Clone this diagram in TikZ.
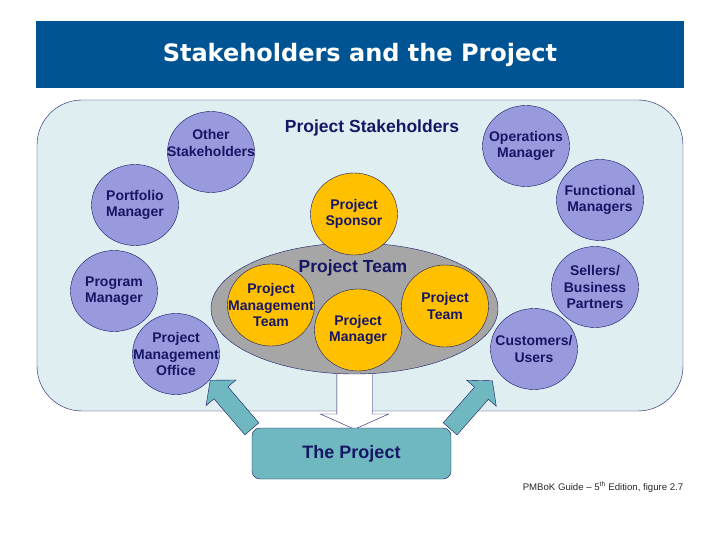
\documentclass[tikz,border=0pt]{standalone}
\usepackage{fontspec}
\setmainfont{Liberation Sans}
\newfontfamily\titlefont{DejaVu Sans}
\usetikzlibrary{positioning, shapes, shapes.arrows}

\definecolor{navy}{RGB}{22,22,100}
\definecolor{bannerblue}{RGB}{0,84,147}
\definecolor{lavender}{RGB}{153,153,221}
\definecolor{gold}{RGB}{255,192,0}
\definecolor{pale}{RGB}{222,238,241}
\definecolor{tealbox}{RGB}{112,184,192}
\definecolor{greyteam}{RGB}{166,166,166}

\begin{document}
\begin{tikzpicture}[x=1bp, y=-1bp,
      stk/.style={ellipse, draw=navy, fill=lavender, minimum width=87bp, minimum height=81bp, inner sep=0pt},
      core/.style={ellipse, draw=navy, fill=gold, minimum width=87bp, minimum height=82bp, inner sep=0pt},
      txt/.style={font=\bfseries\fontsize{14bp}{16.5bp}\selectfont, text=navy, align=center, inner sep=0pt},
      hdr/.style={font=\bfseries\fontsize{17.5bp}{20bp}\selectfont, text=navy, inner sep=0pt},
      push/.style={single arrow, draw=navy, fill=tealbox, inner xsep=0pt, inner ysep=9bp, minimum height=64bp,
        single arrow head extend=10.5bp, single arrow tip angle=100, anchor=tail}]
      \useasboundingbox (0,0) rectangle (720,540);
      \node[fill=bannerblue, minimum width=648bp, minimum height=67bp, text=white,
        font=\titlefont\bfseries\fontsize{24bp}{27bp}\selectfont] (banner) at (360,54.5) {Stakeholders and the Project};
      \node[draw=navy, fill=pale, rounded corners=45bp, minimum width=646bp, minimum height=311bp] (area) at (360,255.5) {};
      \node[hdr, anchor=base] (stakes) at (372,133) {Project Stakeholders};

      % stakeholders around the team
      \node[stk, label={[txt, yshift=9bp]center:{Other\\Stakeholders}}] (other) at (211,152) {};
      \node[stk, label={[txt]center:{Portfolio\\Manager}}] (portfolio) at (135,205) {};
      \node[stk, label={[txt]center:{Program\\Manager}}] (program) at (114,291) {};
      \node[stk, label={[txt]center:{Project\\Management\\Office}}] (pmo) at (176,354) {};
      \node[stk, label={[txt]center:{Operations\\Manager}}] (ops) at (526,146) {};
      \node[stk, label={[txt]center:{Functional\\Managers}}] (functional) at (600,200) {};
      \node[stk, label={[txt]center:{Sellers/\\Business\\Partners}}] (sellers) at (595,287) {};
      \node[stk, label={[txt]center:{Customers/\\Users}}] (customers) at (534,349) {};

      % the project team
      \node[single arrow, draw=navy, fill=white, inner xsep=0pt, inner ysep=17.5bp, minimum height=64bp,
        single arrow head extend=16.5bp, single arrow tip angle=132, anchor=tail, rotate=-90] (drop) at (354.5,365) {};
      \node[ellipse, draw=navy, fill=greyteam, minimum width=287bp, minimum height=131bp] (team) at (354.5,308.5) {};
      \node[core, label={[txt]center:{Project\\Sponsor}}] (sponsor) at (354,214) {};
      \node[core, label={[txt]center:{Project\\Management\\Team}}] (pmt) at (271,305) {};
      \node[core, label={[txt]center:{Project\\Manager}}] (pm) at (358,330) {};
      \node[core, label={[txt]center:{Project\\Team}}] (pteam) at (445,306) {};
      \node[hdr, anchor=base] (teamlabel) at (353,273) {Project Team};

      % the project feeding back
      \node[push, rotate=130.6] (leftpush) at (252,429) {};
      \node[push, rotate=48.7] (rightpush) at (450,429) {};
      \node[draw=navy, fill=tealbox, rounded corners=8bp, minimum width=199bp, minimum height=51bp,
        font=\bfseries\fontsize{18bp}{20bp}\selectfont, text=navy] (project) at (351.5,453.5) {The Project};

      \node[anchor=base, font=\fontsize{9.6bp}{11bp}\selectfont, text=black!85] (source) at (603,490)
        {PMBoK Guide -- 5\textsuperscript{th} Edition, figure 2.7};
\end{tikzpicture}
\end{document}
